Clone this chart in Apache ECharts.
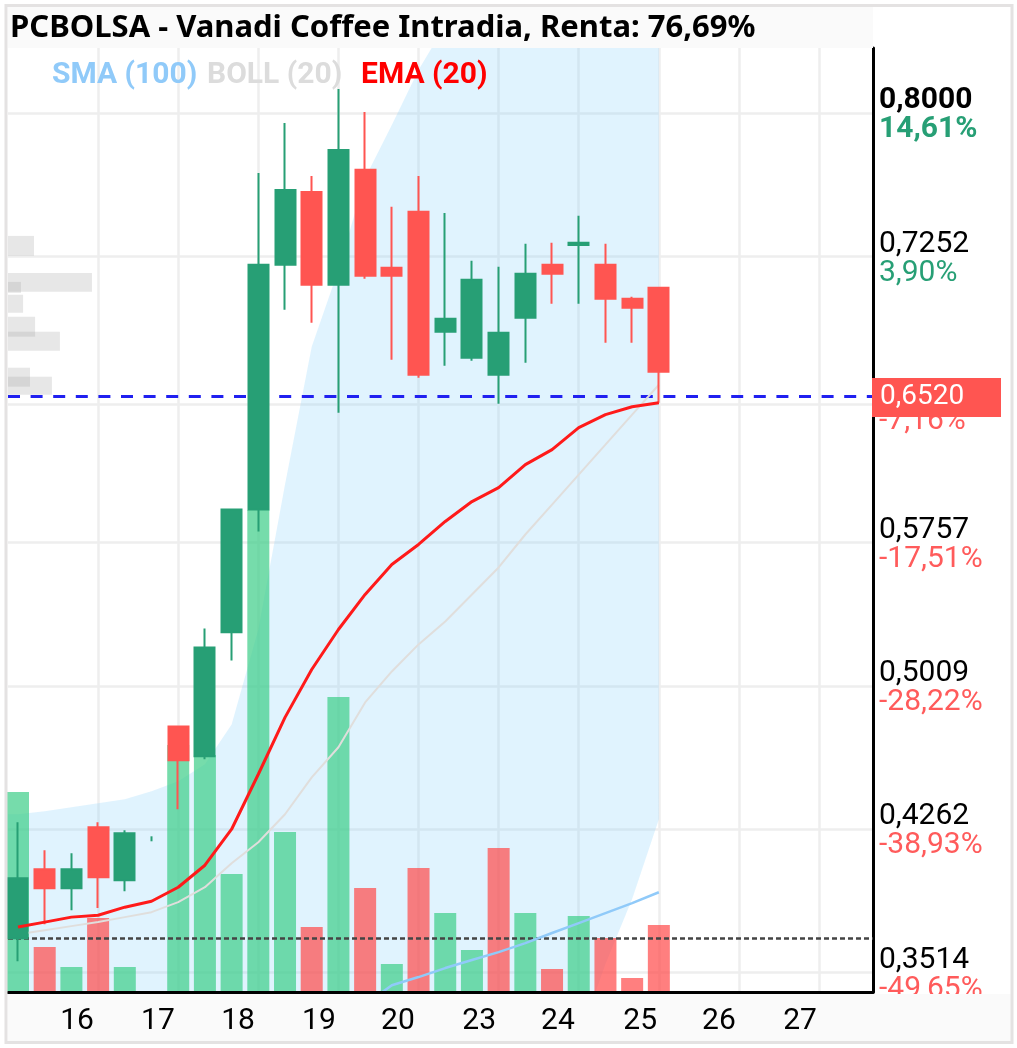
<!DOCTYPE html>
<html><head><meta charset="utf-8">
<style>html,body{margin:0;padding:0;background:#fff}#c{width:1017px;height:1048px}</style>
<script src="https://cdn.jsdelivr.net/npm/echarts@6/dist/echarts.min.js"></script>
</head><body><div id="c"></div>
<script>
const titleText = 'PCBOLSA - Vanadi Coffee Intradia, Renta: 76,69%';
const closePrice = 0.652;
const closeLabel = '0,6520';
const entryPrice = 0.3691;

// [slot, open, close, low, high]
const candles = [
 [0,.3691,.4004,.3571,.4296],[1,.4051,.3952,.3764,.4150],[2,.3952,.4051,.3837,.4135],
 [3,.4270,.4009,.3848,.4296],[4,.3994,.4239,.3936,.4255],
 [6,.4797,.4620,.4364,.4797],[7,.4641,.5209,.4625,.5308],[8,.5288,.5929,.5141,.5929],
 [9,.5929,.7207,.5814,.7687],[10,.7207,.7598,.6972,.7948],[11,.7588,.7103,.6905,.7671],
 [12,.7103,.7807,.6435,.8125],[13,.7703,.7150,.7134,.8005],[14,.7192,.7150,.6712,.7510],
 [15,.7484,.6633,.6618,.7671],[16,.6858,.6925,.6680,.7478],[17,.6722,.7129,.6706,.7228],
 [18,.6633,.6852,.6482,.7197],[19,.6931,.7160,.6696,.7317],[20,.7207,.7160,.7004,.7322],
 [21,.7311,.7322,.7004,.7463],[22,.7207,.7030,.6800,.7317],[23,.7030,.6983,.6800,.7040],
 [24,.7087,.6649,.6487,.7087]
];
const tinyCandle = [[5,.4197,.4223,.4197,.4223]];
const volumes = [200,45,25,74,25,0,247,237,118,482,160,65,295,104,28,124,79,42,144,79,23,76,54,14,67];
const volumeRising = [1,0,1,0,1,1,1,1,1,1,1,0,1,0,1,0,1,1,0,1,0,1,0,0,0];
const ema20 = [.3749,.3775,.3801,.3811,.3853,.3884,.3957,.4072,.4260,.4547,.4844,.5094,.5303,.5486,.5642,.5747,.5867,.5971,.6044,.6164,.6242,.6357,.6425,.6466,.6487];
const bollMid = [.3712,.3733,.3754,.3775,.3801,.3827,.3879,.3957,.4082,.4192,.4338,.4531,.4688,.4922,.5084,.5225,.5345,.5486,.5627,.5799,.5955,.6112,.6268,.6425,.6581];
const bollUpper = [.4338,.4354,.4375,.4395,.4416,.4458,.4510,.4599,.4807,.5303,.6060,.6779,.7181,.7661,.7937,.8224,.8459,.87,.89,.90,.905,.91,.915,.92,.925];
const bollLower = [.31,.31,.31,.31,.31,.31,.31,.31,.31,.31,.31,.31,.31,.31,.31,.31,.31,.31,.31,.31,.31,.3164,.3556,.3895,.4312];
const sma100Slots = [13,14,15,16,17,18,19,20,21,22,23,24];
const sma100 = [.3345,.3445,.3488,.3535,.3577,.3618,.3665,.3718,.3770,.3822,.3874,.3931];
// [bucket volume, low price, high price]
const priceProfile = [[.6,.7254,.7358],[2.77,.7066,.7165],[.11,.7061,.7118],[.19,.6957,.7051],[.64,.6832,.6936],[1.57,.6759,.6858],[.45,.6571,.6670],[1.27,.6529,.6623]];

const priceTicks = [.8,.7252,.648,.5757,.5009,.4262,.3514];
const priceLabels = ['0,8000','0,7252','0,6505','0,5757','0,5009','0,4262','0,3514'];
const pctLabels = ['14,61%','3,90%','-7,16%','-17,51%','-28,22%','-38,93%','-49,65%'];
const dayGrid = [3,6,9,12,15,18,21,24,27,30];
const dayLabelSlots = [2.21,5.24,8.24,11.27,14.23,17.27,20.22,23.30,26.25,29.29];
const dayLabels = ['16','17','18','19','20','23','24','25','26','27'];

const GREEN='#279f75', RED='#ff5551', FONT='Roboto', FS=30;
const X_MIN=-0.3745, X_MAX=32.02, Y_MIN=0.3410, Y_MAX=0.83394;
const slots = ema20.map((_,i)=>i);
const pair = (xs,ys)=>xs.map((x,i)=>[x,ys[i]]);
const candleStyle = {color:GREEN,color0:RED,borderColor:GREEN,borderColor0:RED,borderColorDoji:GREEN,borderWidth:2};

const chart = echarts.init(document.getElementById('c'),null,{renderer:'canvas'});
const legendText = (name,left,color)=>({data:[name],left,top:60,icon:'none',itemWidth:0,itemHeight:30,selectedMode:false,z:10,padding:0,
  textStyle:{color,fontFamily:FONT,fontWeight:'bold',fontSize:FS}});
const tickRich = (color,bold)=>({color,fontFamily:FONT,fontSize:FS,lineHeight:29,fontWeight:bold?'bold':'normal'});

chart.setOption({
 animation:false,backgroundColor:'#fff',
 title:{text:titleText,left:10,top:10,padding:0,textStyle:{fontFamily:'Noto Sans',fontWeight:'bold',fontSize:31,color:'#000',lineHeight:36}},
 legend:[legendText('SMA (100)',47,'#90caf9'),legendText('BOLL (20)',202,'#dcdcdc'),legendText('EMA (20)',356,'#ff0000')],
 grid:{left:8,right:144,top:48,bottom:56,containLabel:false},
 xAxis:[
  {type:'value',min:X_MIN,max:X_MAX,position:'bottom',axisLine:{show:false},axisLabel:{show:false,customValues:dayGrid},
   axisTick:{show:false,customValues:dayGrid},splitLine:{show:true,lineStyle:{color:'#eeeeee',width:2.5}}},
  {type:'value',min:X_MIN,max:X_MAX,position:'bottom',z:20,axisLine:{show:true,onZero:false,lineStyle:{color:'#000',width:3}},
   axisTick:{show:false,customValues:dayLabelSlots},splitLine:{show:false},
   axisLabel:{show:true,customValues:dayLabelSlots,hideOverlap:false,margin:14,color:'#000',fontFamily:FONT,fontSize:FS,
     formatter:v=>dayLabels[dayLabelSlots.indexOf(v)]||''}}
 ],
 yAxis:[
  {type:'value',min:Y_MIN,max:Y_MAX,position:'right',axisLine:{show:true,onZero:false,lineStyle:{color:'#000',width:3}},
   axisTick:{show:false,customValues:priceTicks},splitLine:{show:true,lineStyle:{color:'#eeeeee',width:2.5}},
   axisLabel:{show:true,customValues:priceTicks,hideOverlap:false,margin:6,align:'left',verticalAlign:'middle',padding:[5,0,0,0],
     formatter:v=>{const i=priceTicks.indexOf(v);if(i<0)return '';
       const up=pctLabels[i][0]!=='-',b=i===0;
       const head=priceLabels[i]==='0,6505'?'h':(b?'pb':'p');
       return '{'+head+'|'+priceLabels[i]+'}\n{'+(up?(b?'gb':'g'):'r')+'|'+pctLabels[i]+'}';},
     rich:{p:tickRich('#000'),pb:tickRich('#000',true),h:tickRich('transparent'),
       g:tickRich(GREEN),gb:tickRich(GREEN,true),r:tickRich('#ff5b5b')}}},
  {type:'value',min:0,max:944,position:'left',show:false,splitLine:{show:false}}
 ],
 series:[
  {name:'Bollinger band',type:'custom',z:3,silent:true,clip:true,data:pair(slots,bollUpper),encode:{x:0,y:1},
   renderItem:(params,api)=>{
     if(params.dataIndex!==0) return null;
     const top=[[X_MIN,bollUpper[0]],...pair(slots,bollUpper)];
     const bot=[[X_MIN,bollLower[0]],...pair(slots,bollLower)].reverse();
     return {type:'polygon',shape:{points:top.concat(bot).map(p=>api.coord(p))},style:{fill:'rgba(135,207,250,.26)'}};
   }},
  {name:'Volume',type:'bar',xAxisIndex:0,yAxisIndex:1,z:4,barWidth:22,silent:true,
   data:pair(slots,volumes),itemStyle:{color:p=>volumeRising[p.dataIndex]?'rgba(60,205,135,.7)':'rgba(255,72,72,.7)'}},
  {name:'Profile',type:'custom',z:4,silent:true,data:priceProfile,encode:{x:0,y:[1,2]},clip:true,
   renderItem:(params,api)=>{
     const a=api.coord([X_MIN,api.value(2)]),b=api.coord([api.value(0),api.value(1)]);
     return {type:'rect',shape:{x:a[0],y:a[1],width:b[0]-a[0],height:b[1]-a[1]},style:{fill:'rgba(170,170,170,.28)'}};
   }},
  {name:'Levels',type:'line',z:5,symbol:'none',silent:true,data:[],
   markLine:{silent:true,symbol:'none',animation:false,precision:4,data:[
     {yAxis:entryPrice,lineStyle:{color:'#444',type:[5,3],width:2.5},label:{show:false}},
     {yAxis:closePrice,lineStyle:{color:'#2020f0',type:[12,10.6],width:3},
      label:{show:true,position:'end',distance:0,offset:[-1,1],formatter:closeLabel,color:'#fff',fontFamily:FONT,fontSize:28,
        backgroundColor:'#ff5551',width:121,height:38,lineHeight:38,padding:[1,0,0,8],align:'left'}}
   ]}},
  {name:'BOLL (20)',type:'line',z:6,symbol:'none',silent:true,lineStyle:{color:'#e0dedc',width:2},itemStyle:{color:'#dcdcdc'},data:pair(slots,bollMid)},
  {name:'SMA (100)',type:'line',z:6,symbol:'none',silent:true,lineStyle:{color:'#90caf9',width:2.5},itemStyle:{color:'#90caf9'},data:pair(sma100Slots,sma100)},
  {name:'Candles',type:'candlestick',z:7,barWidth:20.5,silent:true,itemStyle:candleStyle,data:candles},
  {name:'CandleThin',type:'candlestick',z:7,barWidth:1,silent:true,itemStyle:candleStyle,data:tinyCandle},
  {name:'EMA (20)',type:'line',z:8,symbol:'none',silent:true,lineStyle:{color:'#ff1a1a',width:3},itemStyle:{color:'#ff0000'},data:pair(slots,ema20)}
 ],
 graphic:[
  {type:'rect',z:1,silent:true,shape:{x:8,y:7,width:865,height:41},style:{fill:'#fafafa'}},
  {type:'rect',z:1,silent:true,shape:{x:8,y:994,width:1003,height:47},style:{fill:'#fafafa'}},
  {type:'rect',z:30,silent:true,shape:{x:6,y:5.5,width:1006,height:1037},style:{fill:'none',stroke:'#e4e2e2',lineWidth:3}}
 ]
});
</script></body></html>
